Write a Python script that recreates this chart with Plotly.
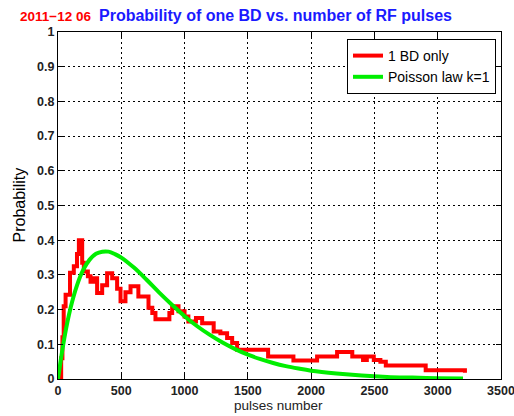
import plotly.graph_objects as go

# Measured fraction of runs with exactly one breakdown (staircase, step starts)
pulses_bd = [10, 25, 35, 45, 60, 95, 125, 150, 165, 191, 204, 236, 257, 283, 309, 349,
             388, 428, 467, 494, 533, 573, 635, 715, 745, 770, 880, 902, 952, 1000, 1030,
             1090, 1139, 1230, 1283, 1336, 1376, 1415, 1660, 1860, 2047, 2205, 2325, 2410,
             2440, 2495, 2547, 2590, 2905, 3215]
prob_bd = [0.0, 0.06, 0.12, 0.21, 0.243, 0.306, 0.325, 0.36, 0.40, 0.335, 0.31, 0.296,
           0.28, 0.29, 0.248, 0.27, 0.305, 0.29, 0.26, 0.224, 0.25, 0.267, 0.238, 0.205,
           0.19, 0.172, 0.19, 0.21, 0.195, 0.18, 0.166, 0.176, 0.161, 0.137, 0.132, 0.118,
           0.104, 0.084, 0.065, 0.053, 0.065, 0.078, 0.065, 0.055, 0.065, 0.055, 0.05,
           0.039, 0.025, 0.018]

# Poisson law, k = 1
pulses_poisson = [0, 50, 100, 150, 200, 250, 300, 350, 400, 450, 500, 600, 700, 800, 900,
                  1000, 1100, 1200, 1300, 1400, 1500, 1600, 1700, 1800, 1900, 2000, 2200,
                  2400, 2600, 2800, 3000, 3200]
prob_poisson = [0.0, 0.118, 0.206, 0.27, 0.315, 0.344, 0.361, 0.367, 0.367, 0.36, 0.35,
                0.321, 0.286, 0.249, 0.214, 0.181, 0.152, 0.127, 0.105, 0.086, 0.07, 0.057,
                0.046, 0.037, 0.03, 0.024, 0.016, 0.01, 0.006, 0.004, 0.0024, 0.0015]

x_ticks = [0, 500, 1000, 1500, 2000, 2500, 3000, 3500]
y_ticks = [0, 0.1, 0.2, 0.3, 0.4, 0.5, 0.6, 0.7, 0.8, 0.9, 1]

FONT = "Liberation Sans, Arial, sans-serif"

fig = go.Figure()
fig.add_trace(go.Scatter(x=pulses_bd, y=prob_bd, mode="lines", name="1 BD only",
                         line=dict(color="#ff0000", width=4, shape="hv")))
fig.add_trace(go.Scatter(x=pulses_poisson, y=prob_poisson, mode="lines",
                         name="Poisson law k=1",
                         line=dict(color="#00ee00", width=4, shape="spline")))

L, R, T, B = 58, 13, 32, 37
W, H = 514, 416
pw, ph = W - L - R, H - T - B

def px(xp):
    return (xp - L) / pw

def py(yp):
    return (H - B - yp) / ph

axis_common = dict(
    showline=True, linecolor="black", linewidth=1, mirror="ticks",
    ticks="inside", ticklen=5, tickcolor="black",
    showgrid=True, gridcolor="black", gridwidth=1, griddash="2px,3px",
    zeroline=False, ticklabeloverflow="allow", automargin=False,
    tickfont=dict(family=FONT, size=12.5, color="#222222", weight="bold"),
)

fig.update_xaxes(range=[0, 3500], tickvals=x_ticks, **axis_common)
fig.update_yaxes(range=[0, 1], tickvals=y_ticks, **axis_common)

fig.update_layout(
    width=W, height=H, autosize=False,
    margin=dict(l=L, r=R, t=T, b=B, pad=0),
    paper_bgcolor="white", plot_bgcolor="white",
    showlegend=True,
    legend=dict(x=px(496), y=py(39), xanchor="right", yanchor="top",
                bgcolor="white", bordercolor="black", borderwidth=1,
                font=dict(family=FONT, size=14, color="black"),
                tracegroupgap=0),
    annotations=[
        dict(text="<b>2011−12 06</b>", x=px(18), y=py(16), xref="paper", yref="paper",
             xanchor="left", yanchor="middle", showarrow=False,
             font=dict(family=FONT, size=13.5, color="#ff0000")),
        dict(text="<b>Probability of one BD vs. number of RF pulses</b>", x=px(97),
             y=py(15), xref="paper", yref="paper", xanchor="left", yanchor="middle",
             showarrow=False, font=dict(family=FONT, size=16, color="#1a1aff")),
        dict(text="Probability", x=px(18.5), y=py(205), xref="paper", yref="paper",
             xanchor="center", yanchor="middle", textangle=-90, showarrow=False,
             font=dict(family=FONT, size=16, color="black")),
        dict(text="pulses number", x=px(278), y=py(405), xref="paper", yref="paper",
             xanchor="center", yanchor="middle", showarrow=False,
             font=dict(family=FONT, size=13.5, color="#222222")),
    ],
)

fig.write_html("out.html")
